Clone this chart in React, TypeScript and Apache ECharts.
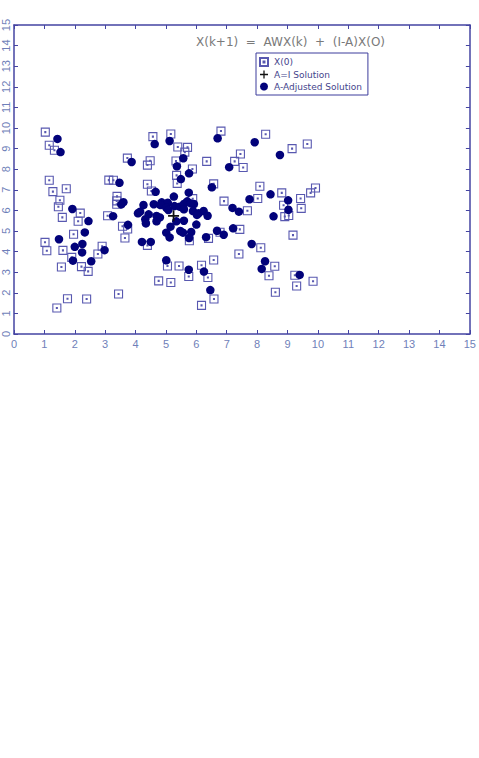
import React, { useEffect, useRef } from 'react';
import * as echarts from 'echarts';

const axisMin = 0;
const axisMax = 15;
const axisStep = 1;

const titleText = 'X(k+1)  =  AWX(k)  +  (I-A)X(O)';
const legendNames = ['X(0)', 'A=I Solution', 'A-Adjusted Solution'];

// X(0): initial positions (hollow squares)
const initialPoints: [number, number][] = [
  [1.03, 9.8], [1.16, 9.16], [1.33, 8.92], [3.73, 8.54], [1.16, 7.46],
  [3.12, 7.47], [3.27, 7.46], [1.28, 6.91], [1.72, 7.05], [3.39, 6.68],
  [1.51, 6.49], [3.38, 6.46], [3.38, 6.3], [1.46, 6.18], [2.18, 5.87],
  [1.59, 5.66], [2.11, 5.47], [3.08, 5.74], [3.57, 5.23], [3.74, 5.1],
  [3.65, 4.66], [1.96, 4.84], [1.02, 4.45], [2.9, 4.26], [1.08, 4.04],
  [1.61, 4.06], [2.76, 3.88], [1.9, 3.72], [1.56, 3.25], [2.22, 3.27],
  [2.44, 3.04], [1.76, 1.71], [2.39, 1.7], [1.41, 1.26], [3.44, 1.94],
  [4.57, 9.58], [5.16, 9.71], [5.39, 9.08], [5.71, 9.06], [5.62, 8.83],
  [6.81, 9.85], [4.48, 8.41], [4.39, 8.2], [5.33, 8.4], [6.34, 8.38],
  [5.87, 8.01], [5.35, 7.7], [5.37, 7.31], [6.57, 7.29], [4.39, 7.27],
  [4.52, 6.94], [6.91, 6.45], [5.88, 6.57], [8.28, 9.7], [9.15, 9.0],
  [9.65, 9.22], [7.45, 8.74], [7.26, 8.38], [7.54, 8.08], [8.09, 7.17],
  [9.92, 7.09], [8.81, 6.85], [9.76, 6.85], [8.02, 6.58], [9.43, 6.58],
  [8.87, 6.25], [9.45, 6.1], [7.68, 5.98], [8.91, 5.7], [9.04, 5.75],
  [7.43, 5.08], [9.18, 4.8], [8.12, 4.19], [7.4, 3.88], [8.58, 3.29],
  [8.39, 2.83], [9.24, 2.85], [9.84, 2.56], [9.3, 2.33], [8.6, 2.03],
  [4.39, 4.3], [5.77, 4.53], [6.4, 4.64], [6.78, 4.94], [5.05, 3.3],
  [5.43, 3.3], [6.17, 3.34], [6.57, 3.59], [4.76, 2.58], [5.16, 2.5],
  [5.75, 2.79], [6.38, 2.74], [6.58, 1.7], [6.17, 1.39],
];

// A=I solution (single point)
const identityPoints: [number, number][] = [[5.25, 5.74]];

// A-adjusted solution (filled circles)
const adjustedPoints: [number, number][] = [
  [1.43, 9.47], [1.53, 8.83], [3.87, 8.35], [3.47, 7.34], [3.6, 6.4],
  [3.53, 6.29], [1.92, 6.07], [2.45, 5.48], [3.26, 5.72], [3.75, 5.3],
  [2.33, 4.93], [1.48, 4.6], [2.25, 4.37], [2.0, 4.23], [2.24, 3.96],
  [2.98, 4.07], [1.94, 3.56], [2.54, 3.53], [4.63, 9.22], [5.12, 9.37],
  [5.57, 8.53], [6.7, 9.5], [5.36, 8.14], [5.76, 7.8], [5.49, 7.52],
  [6.51, 7.12], [4.66, 6.9], [7.92, 9.31], [8.75, 8.69], [7.08, 8.1],
  [8.44, 6.78], [7.75, 6.54], [9.02, 6.49], [7.19, 6.12], [7.4, 5.94],
  [9.03, 6.03], [8.54, 5.71], [7.21, 5.13], [6.9, 4.82], [7.82, 4.37],
  [8.26, 3.53], [8.15, 3.16], [9.4, 2.87], [5.01, 3.58], [5.75, 3.12],
  [6.25, 3.03], [6.46, 2.13], [4.26, 6.26], [4.08, 5.86], [4.15, 5.94],
  [4.43, 5.81], [4.6, 6.3], [4.86, 6.39], [5.06, 6.37], [5.26, 6.67],
  [4.82, 6.26], [5.01, 6.13], [5.08, 6.02], [5.28, 6.21], [5.45, 6.18],
  [5.59, 6.31], [5.75, 6.86], [5.7, 6.44], [5.92, 6.31], [5.82, 6.34],
  [5.59, 6.05], [5.89, 5.97], [6.07, 5.86], [6.24, 5.97], [6.37, 5.74],
  [6.02, 5.78], [4.32, 5.57], [4.34, 5.37], [4.69, 5.73], [4.8, 5.66],
  [4.69, 5.47], [5.15, 5.21], [5.34, 5.47], [5.59, 5.5], [6.0, 5.31],
  [5.01, 4.92], [5.12, 4.69], [5.47, 5.0], [5.56, 4.92], [5.83, 4.95],
  [5.76, 4.66], [6.32, 4.7], [4.21, 4.47], [4.5, 4.47], [6.68, 5.01],
];

const AXIS_COLOR = '#4444a2';
const LABEL_COLOR = '#6f7fb9';
const SQUARE_COLOR = '#5858b0';
const CIRCLE_COLOR = '#02027a';
const FONT = '"Liberation Sans", Arial, sans-serif';
const WIDE_FONT = '"DejaVu Sans", sans-serif';

const squareSymbol = 'path://M0,0H10V10H0Z M4.4,4.4H5.6V5.6H4.4Z';
const plusSymbol = 'path://M4.2,0H5.8V4.2H10V5.8H5.8V10H4.2V5.8H0V4.2H4.2Z';

function makeAxis(kind: 'x' | 'y', pos: string, showLabels: boolean) {
  return {
    type: 'value',
    min: axisMin,
    max: axisMax,
    interval: axisStep,
    position: pos,
    axisLine: { show: true, onZero: false, lineStyle: { color: AXIS_COLOR, width: 1.5 } },
    axisTick: { show: true, inside: true, length: 4, lineStyle: { color: AXIS_COLOR, width: 1 } },
    axisLabel: showLabels
      ? {
          show: true,
          color: LABEL_COLOR,
          fontSize: 11,
          fontFamily: FONT,
          margin: kind === 'x' ? 4 : 3,
          rotate: kind === 'y' ? 90 : 0,
        }
      : { show: false },
    splitLine: { show: false },
  };
}

export default function App() {
  const ref = useRef<HTMLDivElement>(null);

  useEffect(() => {
    if (!ref.current) return;
    const chart = echarts.init(ref.current, undefined, { renderer: 'svg' });
    chart.setOption({
      animation: false,
      backgroundColor: '#ffffff',
      grid: { left: 12, top: 25, width: 458, height: 309, containLabel: false },
      xAxis: [makeAxis('x', 'bottom', true), makeAxis('x', 'top', false)],
      yAxis: [makeAxis('y', 'left', true), makeAxis('y', 'right', false)],
      legend: {
        orient: 'vertical',
        left: 256,
        top: 53,
        data: legendNames,
        itemWidth: 8,
        itemHeight: 8,
        itemGap: 3,
        padding: [4, 6, 4, 3],
        borderColor: '#3c3c9c',
        borderWidth: 1,
        textStyle: { fontSize: 9, color: '#44448c', fontFamily: WIDE_FONT, padding: [0, 0, 0, 1] },
      },
      graphic: [
        {
          type: 'text',
          left: 196,
          top: 36,
          style: { text: titleText, font: `12px ${WIDE_FONT}`, fill: '#7a7a7a' },
        },
      ],
      series: [
        {
          name: legendNames[0],
          type: 'scatter',
          data: initialPoints,
          symbol: squareSymbol,
          symbolSize: 8,
          itemStyle: { color: 'rgba(255,255,255,0)', borderColor: SQUARE_COLOR, borderWidth: 1.1, opacity: 1 },
          z: 2,
        },
        {
          name: legendNames[2],
          type: 'scatter',
          data: adjustedPoints,
          symbol: 'circle',
          symbolSize: 8.5,
          itemStyle: { color: CIRCLE_COLOR, opacity: 1 },
          z: 3,
        },
        {
          name: legendNames[1],
          type: 'scatter',
          data: identityPoints,
          symbol: plusSymbol,
          symbolSize: 11,
          itemStyle: { color: '#111111', opacity: 1 },
          z: 5,
        },
      ],
    });
    return () => chart.dispose();
  }, []);

  return (
    <div
      ref={ref}
      style={{ position: 'absolute', left: 0, top: 0, width: 479, height: 758 }}
    />
  );
}
